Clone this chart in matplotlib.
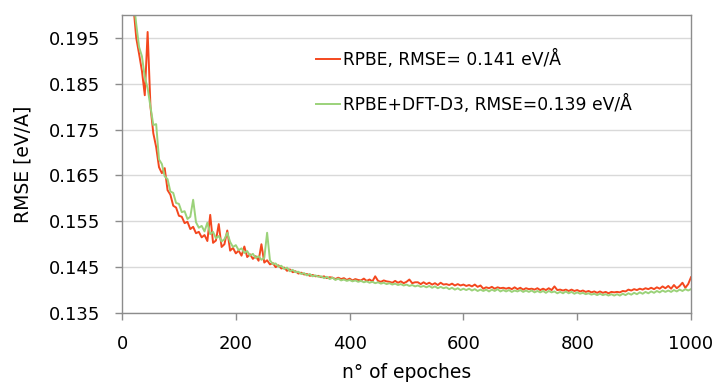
import numpy as np
import matplotlib
matplotlib.use("Agg")
import matplotlib.pyplot as plt

plt.rcParams['font.family'] = ['DejaVu Sans']

# epochs, every 5 from 20 to 1000
epochs = np.arange(20, 1001, 5)

rmse_rpbe = [
    0.2020, 0.1950, 0.1915, 0.1878, 0.1825, 0.1963, 0.1800, 0.1742, 0.1712, 0.1668,
    0.1655, 0.1666, 0.1618, 0.1608, 0.1584, 0.1580, 0.1562, 0.1560, 0.1546, 0.1549,
    0.1533, 0.1538, 0.1524, 0.1527, 0.1515, 0.1520, 0.1507, 0.1564, 0.1503, 0.1508,
    0.1544, 0.1494, 0.1500, 0.1530, 0.1486, 0.1492, 0.1480, 0.1486, 0.1475, 0.1495,
    0.1472, 0.1478, 0.1468, 0.1474, 0.1464, 0.1500, 0.1460, 0.1465, 0.1456, 0.1459,
    0.1450, 0.1454, 0.1447, 0.1449, 0.1442, 0.1445, 0.1439, 0.1441, 0.1436, 0.1438,
    0.1434, 0.1435, 0.1431, 0.1433, 0.1430, 0.1431, 0.1428, 0.1430, 0.1426, 0.1428,
    0.1427, 0.1424, 0.1427, 0.1424, 0.1426, 0.1422, 0.1425, 0.1421, 0.1424, 0.1422,
    0.1421, 0.1425, 0.1420, 0.1423, 0.1419, 0.1430, 0.1420, 0.1418, 0.1421, 0.1419,
    0.1418, 0.1416, 0.1420, 0.1416, 0.1419, 0.1415, 0.1418, 0.1423, 0.1415, 0.1417,
    0.1417, 0.1413, 0.1417, 0.1413, 0.1416, 0.1412, 0.1415, 0.1411, 0.1416, 0.1412,
    0.1413, 0.1411, 0.1414, 0.1410, 0.1413, 0.1410, 0.1412, 0.1409, 0.1411, 0.1408,
    0.1412, 0.1407, 0.1410, 0.1403, 0.1406, 0.1404, 0.1407, 0.1403, 0.1406, 0.1404,
    0.1405, 0.1403, 0.1405, 0.1402, 0.1406, 0.1402, 0.1405, 0.1401, 0.1404, 0.1402,
    0.1403, 0.1401, 0.1404, 0.1400, 0.1403, 0.1400, 0.1404, 0.1400, 0.1408, 0.1400,
    0.1401, 0.1399, 0.1401, 0.1398, 0.1401, 0.1398, 0.1400, 0.1397, 0.1399, 0.1396,
    0.1398, 0.1395, 0.1397, 0.1394, 0.1397, 0.1394, 0.1396, 0.1393, 0.1396, 0.1395,
    0.1396, 0.1395, 0.1398, 0.1397, 0.1401, 0.1399, 0.1402, 0.1400, 0.1403, 0.1401,
    0.1404, 0.1402, 0.1405, 0.1402, 0.1406, 0.1403, 0.1408, 0.1404, 0.1409, 0.1403,
    0.1411, 0.1404, 0.1409, 0.1416, 0.1405, 0.1413, 0.1428,
]

rmse_d3 = [
    0.2035, 0.1980, 0.1930, 0.1910, 0.1865, 0.1840, 0.1800, 0.1760, 0.1762, 0.1685,
    0.1675, 0.1648, 0.1642, 0.1615, 0.1612, 0.1590, 0.1588, 0.1570, 0.1572, 0.1555,
    0.1560, 0.1597, 0.1548, 0.1536, 0.1540, 0.1528, 0.1547, 0.1522, 0.1527, 0.1513,
    0.1518, 0.1506, 0.1511, 0.1525, 0.1505, 0.1494, 0.1498, 0.1487, 0.1491, 0.1481,
    0.1485, 0.1475, 0.1479, 0.1470, 0.1474, 0.1466, 0.1470, 0.1525, 0.1465, 0.1457,
    0.1458, 0.1451, 0.1453, 0.1446, 0.1449, 0.1441, 0.1444, 0.1439, 0.1440, 0.1435,
    0.1437, 0.1432, 0.1435, 0.1430, 0.1432, 0.1429, 0.1430, 0.1426, 0.1429, 0.1424,
    0.1427, 0.1422, 0.1425, 0.1421, 0.1423, 0.1420, 0.1422, 0.1419, 0.1421, 0.1418,
    0.1420, 0.1417, 0.1419, 0.1416, 0.1418, 0.1415, 0.1417, 0.1414, 0.1416, 0.1413,
    0.1415, 0.1412, 0.1414, 0.1411, 0.1413, 0.1410, 0.1412, 0.1409, 0.1411, 0.1408,
    0.1410, 0.1407, 0.1409, 0.1406, 0.1409, 0.1405, 0.1408, 0.1404, 0.1407, 0.1404,
    0.1406, 0.1402, 0.1405, 0.1401, 0.1404, 0.1400, 0.1403, 0.1400, 0.1403, 0.1399,
    0.1402, 0.1398, 0.1401, 0.1398, 0.1401, 0.1397, 0.1401, 0.1398, 0.1402, 0.1397,
    0.1400, 0.1397, 0.1400, 0.1396, 0.1399, 0.1397, 0.1400, 0.1396, 0.1399, 0.1396,
    0.1399, 0.1395, 0.1398, 0.1395, 0.1398, 0.1394, 0.1398, 0.1395, 0.1397, 0.1393,
    0.1396, 0.1393, 0.1397, 0.1393, 0.1396, 0.1392, 0.1395, 0.1392, 0.1394, 0.1391,
    0.1393, 0.1390, 0.1392, 0.1389, 0.1392, 0.1389, 0.1391, 0.1388, 0.1391, 0.1388,
    0.1391, 0.1388, 0.1392, 0.1389, 0.1393, 0.1390, 0.1394, 0.1391, 0.1395, 0.1392,
    0.1396, 0.1393, 0.1397, 0.1394, 0.1398, 0.1395, 0.1399, 0.1396, 0.1399, 0.1396,
    0.1400, 0.1397, 0.1401, 0.1398, 0.1402, 0.1399, 0.1402,
]

labels = ["RPBE, RMSE= 0.141 eV/Å", "RPBE+DFT-D3, RMSE=0.139 eV/Å"]
yticks = [0.135, 0.145, 0.155, 0.165, 0.175, 0.185, 0.195]
xticks = [0, 200, 400, 600, 800, 1000]

fig = plt.figure(figsize=(7.14, 3.83), dpi=100)
ax = fig.add_axes([0.1709, 0.1828, 0.7969, 0.778])

ax.plot(epochs, rmse_rpbe, color='#F4471E', lw=1.4, label=labels[0])
ax.plot(epochs, rmse_d3, color='#9BD27A', lw=1.4, label=labels[1])

ax.set_xlim(0, 1000)
ax.set_ylim(0.135, 0.200)
ax.set_yticks(yticks)
ax.set_yticklabels([f"{v:.3f}" for v in yticks])
ax.set_xticks(xticks)
ax.yaxis.grid(True, color='#D9D9D9', lw=1)
ax.set_axisbelow(True)
for s in ax.spines.values():
    s.set_color('#8C8C8C')
    s.set_linewidth(1)
ax.tick_params(axis='both', colors='#8C8C8C', labelcolor='black', labelsize=13, length=5, width=1)
ax.tick_params(axis='y', pad=10.5)
ax.tick_params(axis='x', pad=11)

ax.set_ylabel("RMSE [eV/A]", fontsize=13.5, labelpad=12)
ax.set_xlabel("n° of epoches", fontsize=13.5, labelpad=7)

ax.legend(loc='upper left', bbox_to_anchor=(0.314, 0.935), frameon=False, fontsize=12.3,
          handlelength=1.4, handletextpad=0.2, labelspacing=1.55)

fig.savefig("out.png", dpi=100)
